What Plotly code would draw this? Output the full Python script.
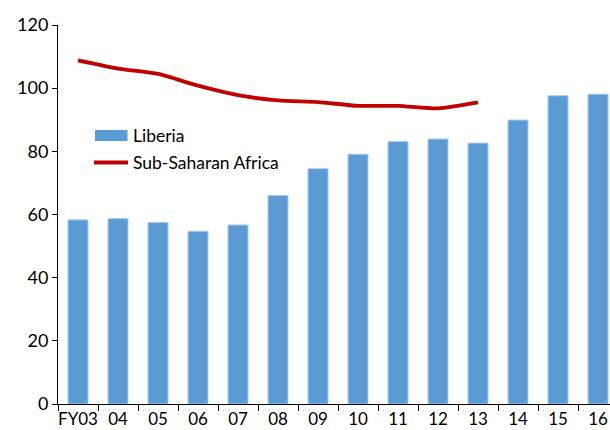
import plotly.graph_objects as go

categories = ["FY03", "04", "05", "06", "07", "08", "09", "10", "11", "12", "13", "14", "15", "16"]
liberia = [58.3, 58.7, 57.5, 54.7, 56.7, 66.0, 74.5, 79.1, 83.1, 83.9, 82.6, 89.9, 97.6, 98.1]
ssa_categories = categories[:11]
ssa = [108.8, 106.2, 104.5, 100.8, 97.8, 96.1, 95.6, 94.4, 94.4, 93.6, 95.5]

FONT = "Lato, 'Noto Sans', sans-serif"
BLUE = "#5B9BD5"
RED = "#C00000"

fig = go.Figure()
fig.add_trace(go.Bar(
    x=categories, y=liberia, name="Liberia",
    marker=dict(color=BLUE, line=dict(color="#A9CBEB", width=1)),
    width=0.5, showlegend=False,
))
fig.add_trace(go.Scatter(
    x=ssa_categories, y=ssa, name="Sub-Saharan Africa", mode="lines",
    line=dict(color=RED, width=3.8, shape="spline", smoothing=0.6),
    showlegend=False,
))

W, H = 610, 430
L, R, T, B = 58, 0, 25, 26
PW, PH = W - L - R, H - T - B
# paper coordinates are relative to the plot area
def px(x): return (x - L) / PW
def py(y): return 1 - (y - T) / PH

shapes = [
    dict(type="rect", xref="paper", yref="paper",
         x0=px(95), x1=px(127.5), y0=py(141), y1=py(130),
         fillcolor=BLUE, line=dict(width=0)),
    dict(type="line", xref="paper", yref="paper",
         x0=px(94), x1=px(128), y0=py(162.5), y1=py(162.5),
         line=dict(color=RED, width=3.8)),
]
annotations = [
    dict(text="Liberia", xref="paper", yref="paper", x=px(131), y=py(135.5),
         xanchor="left", yanchor="middle", showarrow=False,
         font=dict(family=FONT, size=17.5, color="#000")),
    dict(text="Sub-Saharan Africa", xref="paper", yref="paper", x=px(131), y=py(162.5),
         xanchor="left", yanchor="middle", showarrow=False,
         font=dict(family=FONT, size=17.5, color="#000")),
]

fig.update_layout(
    width=W, height=H,
    margin=dict(l=L, r=R, t=T, b=B, pad=0),
    paper_bgcolor="white", plot_bgcolor="white",
    font=dict(family=FONT, size=18, color="#000"),
    shapes=shapes, annotations=annotations,
    bargap=0.5,
)
fig.update_xaxes(
    type="category", range=[-0.5, 13.3], automargin=False, tickangle=0,
    showline=True, linecolor="#000", linewidth=1,
    ticks="outside", ticklen=6, tickcolor="#000", tickson="boundaries",
    showgrid=False, zeroline=False, tickfont=dict(size=17),
)
fig.update_yaxes(
    range=[0, 120], tickvals=[0, 20, 40, 60, 80, 100, 120], automargin=False,
    showline=True, linecolor="#000", linewidth=1,
    ticks="outside", ticklen=5, tickcolor="#000",
    showgrid=False, zeroline=False, tickfont=dict(size=18),
)

fig.write_html(
    "out.html",
    config={"displayModeBar": False},
    post_script=(
        "document.documentElement.style.margin='0';"
        "document.documentElement.style.overflow='hidden';"
        "document.body.style.margin='0';"
        "document.body.style.overflow='hidden';"
    ),
)
